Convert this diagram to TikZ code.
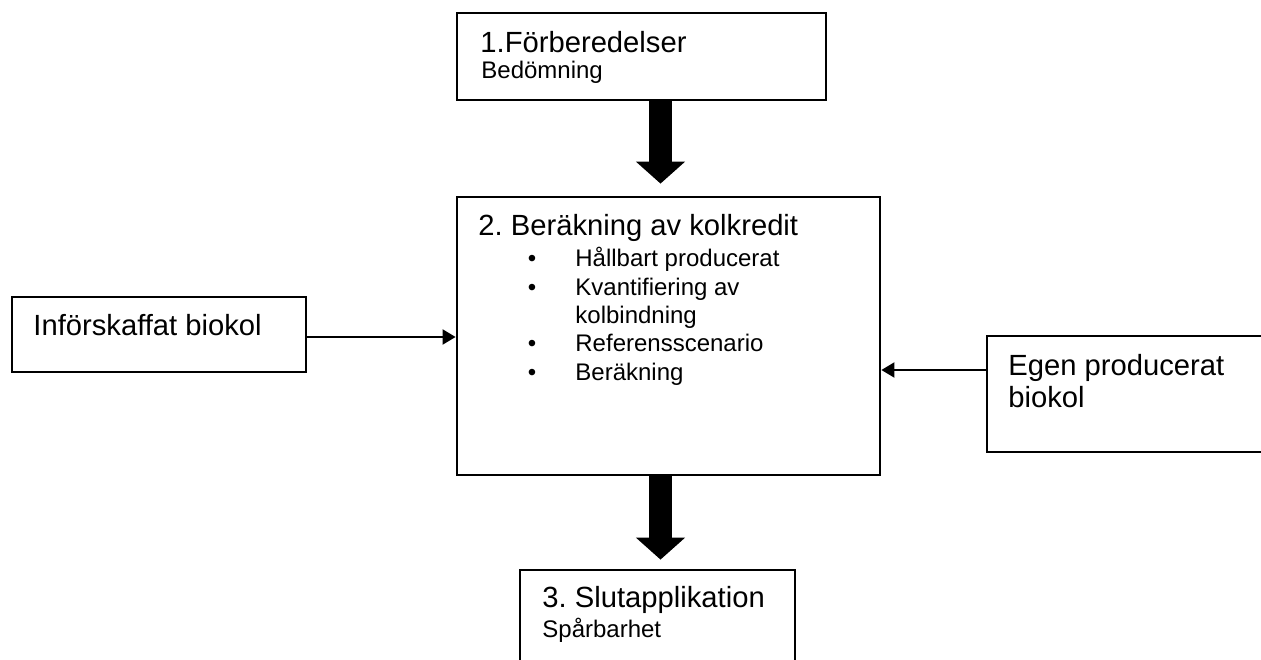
\documentclass[tikz,border=0pt]{standalone}
\usepackage{fontspec}
\setmainfont{Liberation Sans}
\frenchspacing
\usetikzlibrary{arrows.meta}
\begin{document}
\begin{tikzpicture}[x=0.5pt,y=-0.5pt, line join=miter,
	box/.style={draw, line width=1.4pt, rectangle, inner sep=0pt},
	big/.style={font=\fontsize{14.6}{16}\selectfont, anchor=base west, inner sep=0pt},
	small/.style={font=\fontsize{12}{14}\selectfont, anchor=base west, inner sep=0pt},
	thinarrow/.style={line width=1pt, -{Triangle[length=6.5pt,width=7.5pt]}},
	fatarrow/.style={line width=11.5pt, -{Triangle[length=11pt,width=24pt]}}]
	\useasboundingbox (0,0) rectangle (1261,659);
	\clip (0,0) rectangle (1261,659);
	% Rutor
	\node[box, minimum width=184.5pt, minimum height=43.5pt] (prep) at (641.5,56.5) {};
	\node[box, minimum width=211.5pt, minimum height=139pt] (calc) at (668.5,336) {};
	\node[box, minimum width=147pt, minimum height=37.5pt] (bought) at (159,334.5) {};
	\node[box, minimum width=151.5pt, minimum height=58pt] (own) at (1138.5,394) {};
	\node[box, minimum width=137.5pt, minimum height=60pt] (final) at (657.5,630) {};
	% Texter
	\node[big] (prepT) at (480,52) {1.Förberedelser};
	\node[small] (prepS) at (481,78) {Bedömning};
	\node[big] (calcT) at (478,235) {2. Beräkning av kolkredit};
	\foreach \txt/\y [count=\i] in {Hållbart producerat/266, Kvantifiering av/295, Referensscenario/351, Beräkning/380}{
		\node[small, anchor=base] (dot\i) at (532,\y) {•};
		\node[small] (item\i) at (575,\y) {\txt};
	}
	\node[small] (item2b) at (575,323) {kolbindning};
	\node[big] (boughtT) at (33,335) {Införskaffat biokol};
	\node[big] (ownT) at (1008,375) {Egen producerat};
	\node[big] (ownU) at (1008,407) {biokol};
	\node[big] (finalT) at (542,607) {3. Slutapplikation};
	\node[small] (finalS) at (542,637) {Spårbarhet};
	% Pilar
	\draw[fatarrow, shorten >=6pt] ([xshift=9.5pt]prep.south) -- ([xshift=9.5pt]prep.south |- calc.north);
	\draw[fatarrow, shorten >=4.5pt] ([xshift=-4pt]calc.south) -- ([xshift=-4pt]calc.south |- final.north);
	\draw[thinarrow] ([yshift=-1.25pt]bought.east) -- ([yshift=-1.25pt]bought.east -| calc.west);
	\draw[thinarrow] ([yshift=12pt]own.west) -- ([yshift=12pt]own.west -| calc.east);
\end{tikzpicture}
\end{document}
